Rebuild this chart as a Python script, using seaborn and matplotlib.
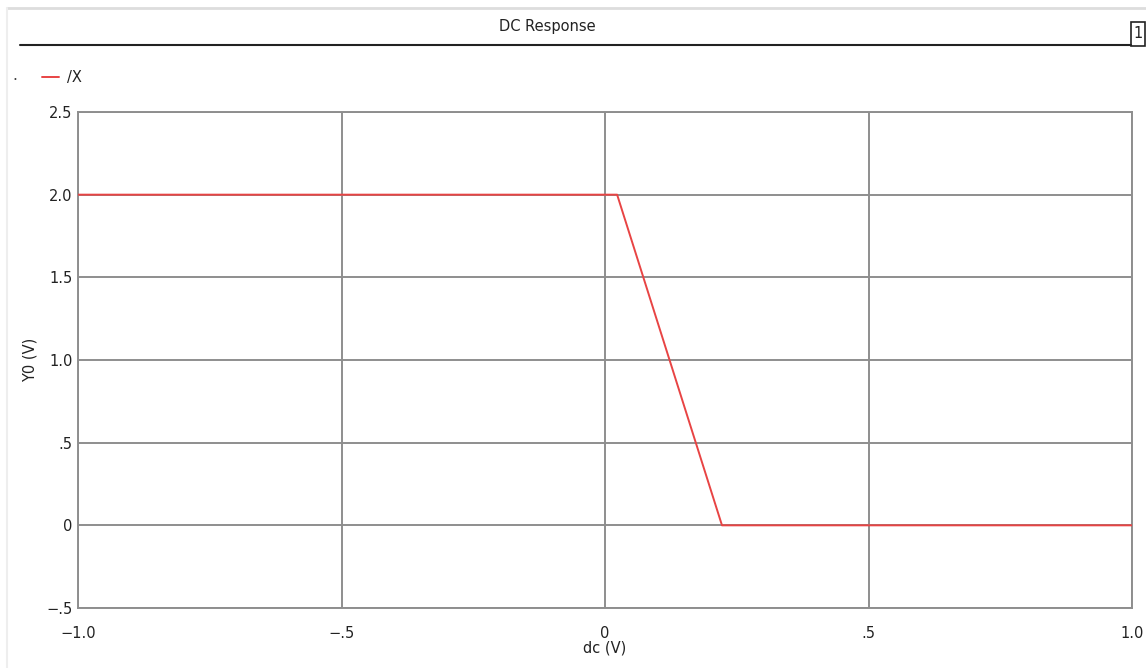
import matplotlib

matplotlib.use("Agg")
import matplotlib.pyplot as plt
import pandas as pd
import seaborn as sns
from matplotlib.lines import Line2D
from matplotlib.patches import Rectangle

# DC sweep
dc_volts = [-1.0, 0.023, 0.222, 1.0]
y0_volts = [2.0, 2.0, 0.0, 0.0]
trace_name = "/X"

x_ticks = [-1.0, -0.5, 0.0, 0.5, 1.0]
x_tick_labels = ["\u22121.0", "\u2212.5", "0", ".5", "1.0"]
y_ticks = [-0.5, 0.0, 0.5, 1.0, 1.5, 2.0, 2.5]
y_tick_labels = ["\u2212.5", "0", ".5", "1.0", "1.5", "2.0", "2.5"]

grid_color = "#8e8e8e"
trace_color = "#e84444"

sns.set_theme(style="white")
plt.rcParams["font.family"] = ["DejaVu Sans"]

df = pd.DataFrame({"dc": dc_volts, "Y0": y0_volts})

fig = plt.figure(figsize=(11.46, 6.68), dpi=100)
ax = fig.add_axes([78 / 1146, 60 / 668, 1054 / 1146, 496 / 668])

sns.lineplot(data=df, x="dc", y="Y0", ax=ax, color=trace_color, linewidth=1.4, label=trace_name, zorder=3)

ax.set_xlim(-1.0, 1.0)
ax.set_ylim(-0.5, 2.5)
ax.set_xticks(x_ticks)
ax.set_xticklabels(x_tick_labels)
ax.set_yticks(y_ticks)
ax.set_yticklabels(y_tick_labels)
ax.tick_params(length=0, labelsize=10.5, colors="#222222", pad=4)
ax.tick_params(axis="x", pad=13)
ax.grid(True, color=grid_color, linewidth=1.4)
for s in ax.spines.values():
    s.set_color(grid_color)
    s.set_linewidth(1.4)

ax.set_xlabel("dc (V)", fontsize=10.5, color="#222222")
ax.xaxis.set_label_coords(0.5, -0.065)
ax.set_ylabel("Y0 (V)", fontsize=10.5, color="#222222")
ax.yaxis.set_label_coords(-0.038, 0.5)

ax.legend(loc="upper left", bbox_to_anchor=(0.025, 0.915), bbox_transform=fig.transFigure,
          frameon=False, fontsize=10.5, handlelength=1.2, handletextpad=0.5,
          labelcolor="#222222")

# window decoration: border, title bar rule and the "1" box
fig.add_artist(Line2D([7 / 1146, 1], [1 - 8 / 668, 1 - 8 / 668], color="#dddddd", linewidth=2))
fig.add_artist(Line2D([7 / 1146, 7 / 1146], [0, 1 - 8 / 668], color="#eeeeee", linewidth=1.5))
fig.add_artist(Line2D([20 / 1146, 1131 / 1146], [1 - 45 / 668, 1 - 45 / 668], color="#222222", linewidth=1.5))
fig.add_artist(Rectangle((1131 / 1146, 1 - 46 / 668), 14 / 1146, 24 / 668, fill=False,
                         edgecolor="#222222", linewidth=1.2, transform=fig.transFigure))
fig.text(1138 / 1146, 1 - 34 / 668, "1", ha="center", va="center", fontsize=10.5, color="#222222")
fig.text(547 / 1146, 1 - 27 / 668, "DC Response", ha="center", va="center", fontsize=10.5, color="#222222")
fig.text(15 / 1146, 1 - 76 / 668, ".", ha="center", va="center", fontsize=11, color="#444444")

fig.savefig("out.png", dpi=100)
plt.close(fig)
